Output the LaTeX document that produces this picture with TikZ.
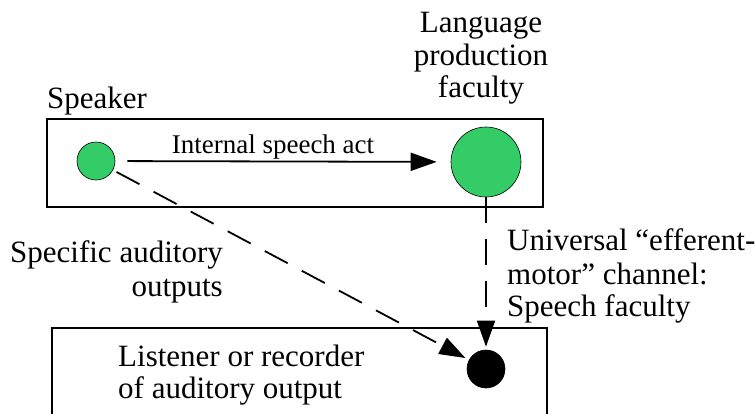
\documentclass[tikz,border=0pt]{standalone}
\usepackage{fontspec}
\setmainfont{Liberation Serif}
\usetikzlibrary{arrows.meta}
\definecolor{dotgreen}{RGB}{51,204,102}
\begin{document}
\begin{tikzpicture}[x=1pt,y=1pt,
  lbl/.style={inner sep=0pt, font=\fontsize{31}{34}\selectfont},
  smalllbl/.style={inner sep=0pt, font=\fontsize{27}{30}\selectfont},
  frame/.style={draw, line width=1.8pt},
  dot/.style={circle, draw, line width=0.6pt, inner sep=0pt},
  conn/.style={line width=1.8pt, -{Triangle[length=26pt,width=18pt]}},
  dashconn/.style={conn, dash pattern=on 26pt off 16pt}]
\useasboundingbox (0,0) rectangle (755,-413);

% frames
\node[frame, minimum width=496pt, minimum height=88pt, inner sep=0pt] (sframe) at (295,-163) {};
\coordinate (lbl) at (52,-420);
\coordinate (ltl) at (52,-328);
\coordinate (ltr) at (547,-328);
\coordinate (lbr) at (547,-420);
\draw[frame] (lbl) -- (ltl) -- (ltr) -- (lbr);

% dots
\node[dot, fill=dotgreen, minimum size=38pt] (spk) at (96,-161) {};
\node[dot, fill=dotgreen, minimum size=70pt] (lpf) at (486,-162) {};
\node[dot, fill=black, minimum size=38pt] (lst) at (486,-369) {};

% connectors
\draw[conn, shorten <=12pt, shorten >=14pt] (spk) -- (lpf);
\draw[dashconn, shorten >=3pt] (lpf) -- (lst);
\draw[dashconn, shorten <=4pt, shorten >=4pt] (spk) -- (lst);

% labels
\node[lbl, anchor=base west] (speaker) at (47,-108) {Speaker};
\node[smalllbl, anchor=base] (isa) at (273,-153) {Internal speech act};
\node[lbl, anchor=base] (lpf1) at (481,-32) {Language};
\node[lbl, anchor=base] (lpf2) at (481,-65) {production};
\node[lbl, anchor=base] (lpf3) at (481,-97) {faculty};
\node[lbl, anchor=base east] (sao1) at (223,-262) {Specific auditory};
\node[lbl, anchor=base east] (sao2) at (223,-296) {outputs};
\node[lbl, anchor=base west] (uc1) at (507,-250) {Universal “efferent-};
\node[lbl, anchor=base west] (uc2) at (507,-284) {motor” channel:};
\node[lbl, anchor=base west] (uc3) at (507,-316) {Speech faculty};
\node[lbl, anchor=base west] (lr1) at (118,-366) {Listener or recorder};
\node[lbl, anchor=base west] (lr2) at (118,-398) {of auditory output};
\end{tikzpicture}
\end{document}
